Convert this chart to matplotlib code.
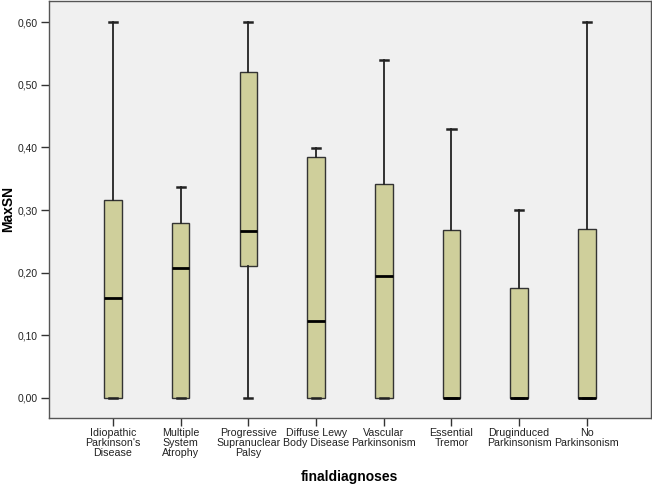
import matplotlib.pyplot as plt

plt.rcParams["font.family"] = ["Liberation Sans", "DejaVu Sans"]

categories = ["Idiopathic\nParkinson's\nDisease", "Multiple\nSystem\nAtrophy",
              "Progressive\nSupranuclear\nPalsy", "Diffuse Lewy\nBody Disease",
              "Vascular\nParkinsonism", "Essential\nTremor",
              "Druginduced\nParkinsonism", "No\nParkinsonism"]
whislo = [0.0, 0.0, 0.0, 0.0, 0.0, 0.0, 0.0, 0.0]
q1 = [0.0, 0.0, 0.21, 0.0, 0.0, 0.0, 0.0, 0.0]
med = [0.16, 0.207, 0.267, 0.123, 0.194, 0.0, 0.0, 0.0]
q3 = [0.316, 0.28, 0.52, 0.385, 0.341, 0.268, 0.175, 0.27]
whishi = [0.60, 0.337, 0.60, 0.399, 0.54, 0.43, 0.30, 0.60]
yticks = [0.0, 0.1, 0.2, 0.3, 0.4, 0.5, 0.6]

stats = []
for i, lab in enumerate(categories):
    stats.append({"label": lab, "whislo": whislo[i], "q1": q1[i], "med": med[i],
                  "q3": q3[i], "whishi": whishi[i], "fliers": []})

fig = plt.figure(figsize=(6.52, 4.86), dpi=100)
ax = fig.add_axes([0.0752, 0.14, 0.923, 0.858])
ax.set_facecolor("#f0f0f0")

ax.bxp(stats, positions=range(len(stats)), widths=0.26, patch_artist=True,
       showfliers=False,
       boxprops=dict(facecolor="#cfcf9b", edgecolor="#333333", linewidth=1),
       medianprops=dict(color="black", linewidth=2),
       whiskerprops=dict(color="#222222", linewidth=1.3),
       capprops=dict(color="#222222", linewidth=1.8),
       capwidths=0.12)

ax.set_xlim(-0.945, 7.945)
ax.set_ylim(-0.032, 0.634)
ax.set_yticks(yticks)
ax.set_yticklabels([f"{v:.2f}".replace(".", ",") for v in yticks], fontsize=7.4, color="#222222")
ax.set_xticks(range(len(categories)))
ax.set_xticklabels(categories, fontsize=7.7, linespacing=1.0, color="#222222")
ax.tick_params(axis="x", length=6, width=1, color="#333333", pad=1)
ax.tick_params(axis="y", length=6, width=1, color="#333333", pad=2)
for s in ax.spines.values():
    s.set_color("#555555")
    s.set_linewidth(1)

ax.set_ylabel("MaxSN", fontsize=10, fontweight="bold", labelpad=2)
ax.set_xlabel("finaldiagnoses", fontsize=10, fontweight="bold", labelpad=9)

fig.savefig("out.png", dpi=100)
